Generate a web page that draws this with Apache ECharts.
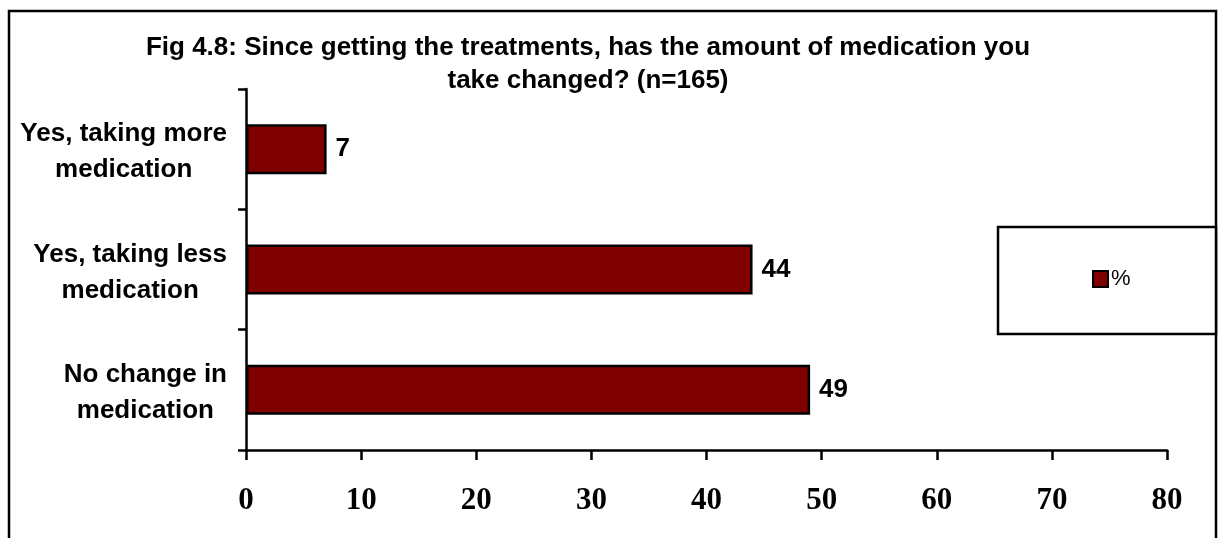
<!DOCTYPE html>
<html>
<head>
<meta charset="utf-8">
<script src="https://cdn.jsdelivr.net/npm/echarts@6/dist/echarts.min.js"></script>
<style>
html,body{margin:0;padding:0;background:#fff;}
#chart{width:1220px;height:538px;}
</style>
</head>
<body>
<div id="chart"></div>
<script>
var titleText = 'Fig 4.8: Since getting the treatments, has the amount of medication you\ntake changed? (n=165)';
var categories = ['No change in\nmedication', 'Yes, taking less\nmedication', 'Yes, taking more\nmedication'];
var values = [49, 44, 7];
var seriesName = '%';
var xTicks = { min: 0, max: 80, interval: 10 };

var chart = echarts.init(document.getElementById('chart'));
var sans = '"Liberation Sans", Arial, sans-serif';
var serif = '"Liberation Serif", "Times New Roman", serif';

chart.setOption({
  animation: false,
  backgroundColor: '#ffffff',
  title: {
    text: titleText,
    left: 583,
    top: 26,
    textAlign: 'center',
    textStyle: { fontFamily: sans, fontWeight: 'bold', fontSize: 26, lineHeight: 33, color: '#000' }
  },
  graphic: [
    { type: 'rect', shape: { x: 9, y: 11, width: 1207, height: 600 }, style: { fill: 'none', stroke: '#000', lineWidth: 2.5 }, silent: true, z: 0 },
    { type: 'rect', shape: { x: 998, y: 227, width: 218, height: 107 }, style: { fill: '#fff', stroke: '#000', lineWidth: 2.5 }, silent: true, z: 0 }
  ],
  legend: {
    data: [{ name: seriesName, icon: 'rect' }],
    left: 1092,
    top: 268,
    padding: 0,
    itemWidth: 15,
    itemHeight: 16,
    itemGap: 5,
    textStyle: { fontFamily: sans, fontSize: 22, color: '#000', padding: [0, 0, 0, -2] },
    itemStyle: { borderColor: '#000', borderWidth: 2 },
    z: 10
  },
  grid: { left: 246, right: 53, top: 89, bottom: 88, containLabel: false },
  xAxis: {
    type: 'value',
    min: xTicks.min,
    max: xTicks.max,
    interval: xTicks.interval,
    axisLine: { show: true, lineStyle: { color: '#000', width: 2.5 } },
    axisTick: { show: true, length: 10, lineStyle: { color: '#000', width: 2.5 } },
    splitLine: { show: false },
    axisLabel: { margin: 35, fontFamily: serif, fontWeight: 'bold', fontSize: 31, color: '#000' }
  },
  yAxis: {
    type: 'category',
    data: categories,
    axisLine: { show: true, lineStyle: { color: '#000', width: 2.5 } },
    axisTick: { show: true, length: 8, lineStyle: { color: '#000', width: 2.5 } },
    axisLabel: {
      margin: 19,
      align: 'right',
      padding: [6, 0, 0, 0],
      formatter: function (v) {
        return v.split('\n').map(function (l) { return '{c|' + l + '}'; }).join('\n');
      },
      rich: {
        c: { align: 'center', fontFamily: sans, fontWeight: 'bold', fontSize: 26, lineHeight: 36, color: '#000' }
      }
    }
  },
  series: [{
    name: seriesName,
    type: 'bar',
    data: values,
    barWidth: 50,
    itemStyle: { color: '#800000', borderColor: '#000', borderWidth: 2.5 },
    label: {
      show: true,
      position: 'right',
      distance: 9,
      fontFamily: sans,
      fontWeight: 'bold',
      fontSize: 26,
      color: '#000'
    }
  }]
});
</script>
</body>
</html>
